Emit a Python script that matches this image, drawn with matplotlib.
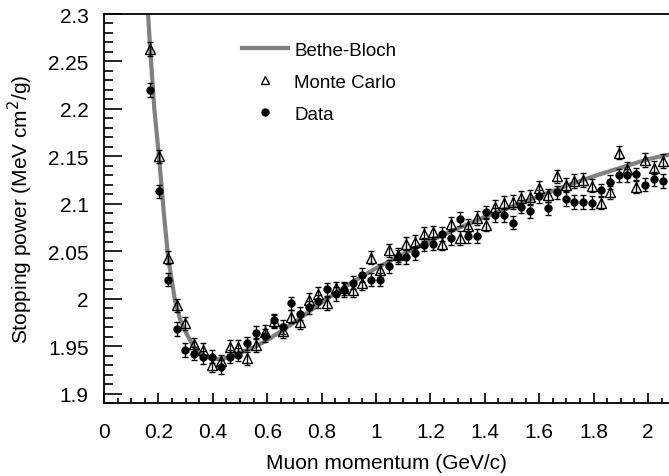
import matplotlib
matplotlib.use('Agg')
import matplotlib.pyplot as plt
from matplotlib import ticker
from matplotlib.lines import Line2D

plt.rcParams['font.family'] = ['Liberation Sans', 'DejaVu Sans']

# momentum bins (GeV/c)
momentum = [0.169, 0.202, 0.234, 0.267, 0.299, 0.332, 0.364, 0.397, 0.429, 0.462,
            0.494, 0.527, 0.559, 0.592, 0.624, 0.657, 0.689, 0.722, 0.754, 0.787,
            0.819, 0.852, 0.884, 0.917, 0.949, 0.982, 1.014, 1.047, 1.079, 1.112,
            1.144, 1.177, 1.209, 1.242, 1.274, 1.307, 1.339, 1.372, 1.404, 1.437,
            1.469, 1.502, 1.534, 1.567, 1.599, 1.632, 1.664, 1.697, 1.729, 1.762,
            1.794, 1.827, 1.859, 1.892, 1.924, 1.957, 1.989, 2.022, 2.054]

data = [2.220, 2.113, 2.020, 1.968, 1.946, 1.942, 1.938, 1.939, 1.928, 1.939,
        1.941, 1.953, 1.964, 1.961, 1.977, 1.970, 1.995, 1.984, 1.991, 1.997,
        2.010, 2.005, 2.009, 2.017, 2.025, 2.020, 2.020, 2.034, 2.044, 2.044,
        2.048, 2.057, 2.058, 2.068, 2.064, 2.084, 2.066, 2.066, 2.091, 2.088,
        2.088, 2.080, 2.097, 2.092, 2.108, 2.095, 2.112, 2.105, 2.102, 2.102,
        2.101, 2.114, 2.123, 2.130, 2.130, 2.131, 2.120, 2.126, 2.124]

montecarlo = [2.263, 2.150, 2.043, 1.993, 1.974, 1.952, 1.946, 1.930, 1.934, 1.949,
              1.949, 1.937, 1.951, 1.965, 1.976, 1.966, 1.981, 1.975, 1.999, 2.005,
              1.995, 2.011, 2.011, 2.009, 2.016, 2.043, 2.030, 2.051, 2.046, 2.058,
              2.060, 2.068, 2.070, 2.058, 2.079, 2.064, 2.077, 2.085, 2.078, 2.097,
              2.101, 2.102, 2.106, 2.107, 2.117, 2.109, 2.129, 2.120, 2.124, 2.125,
              2.119, 2.101, 2.112, 2.154, 2.137, 2.118, 2.146, 2.138, 2.145]

err = 0.007

# Bethe-Bloch curve
bb_p = [0.162, 0.170, 0.185, 0.202, 0.220, 0.236, 0.261, 0.280, 0.298, 0.328,
        0.365, 0.400, 0.440, 0.475, 0.510, 0.560, 0.610, 0.700, 0.800, 0.900,
        1.000, 1.100, 1.200, 1.300, 1.400, 1.500, 1.600, 1.700, 1.800, 1.900,
        2.000, 2.080]
bb_v = [2.300, 2.262, 2.200, 2.150, 2.090, 2.043, 1.998, 1.978, 1.966, 1.950,
        1.940, 1.936, 1.937, 1.940, 1.944, 1.950, 1.958, 1.975, 1.996, 2.015,
        2.032, 2.047, 2.061, 2.074, 2.086, 2.097, 2.108, 2.119, 2.129, 2.138,
        2.147, 2.152]

fig = plt.figure(figsize=(6.69, 4.77), dpi=100)
ax = fig.add_axes([104/669, 1 - 404/477, 1 - 104/669, (404 - 15)/477])

ax.plot(bb_p, bb_v, color='#808080', linewidth=3, zorder=1, solid_capstyle='butt')
ax.errorbar(momentum, montecarlo, yerr=err, fmt='^', ms=7, mfc='none', mec='k', mew=1,
            ecolor='k', elinewidth=1, capsize=2.5, capthick=1, zorder=3)
ax.errorbar(momentum, data, yerr=err, fmt='o', ms=5, color='k',
            ecolor='k', elinewidth=1, capsize=2.5, capthick=1, zorder=2)

ax.set_xlim(0, 2.077)
ax.set_ylim(1.89, 2.3)
ax.xaxis.set_major_locator(ticker.MultipleLocator(0.2))
ax.xaxis.set_minor_locator(ticker.MultipleLocator(0.05))
ax.yaxis.set_major_locator(ticker.FixedLocator([1.9, 1.95, 2.0, 2.05, 2.1, 2.15, 2.2, 2.25, 2.3]))
ax.yaxis.set_minor_locator(ticker.MultipleLocator(0.01))
fmt = ticker.FuncFormatter(lambda v, pos: '%g' % round(v, 3))
ax.xaxis.set_major_formatter(fmt)
ax.yaxis.set_major_formatter(fmt)

ax.tick_params(axis='both', which='both', direction='in', labelsize=15, width=1.2)
ax.tick_params(axis='x', which='major', length=7, pad=14)
ax.tick_params(axis='x', which='minor', length=3.5)
ax.tick_params(axis='y', which='major', length=13, pad=11)
ax.tick_params(axis='y', which='minor', length=6.5)
ax.spines['right'].set_visible(False)
for s in ['left', 'bottom', 'top']:
    ax.spines[s].set_linewidth(1.3)

ax.set_xlabel('Muon momentum (GeV/c)', fontsize=15)
ax.set_ylabel('Stopping power (MeV cm$^2$/g)', fontsize=15)
ax.xaxis.set_label_coords(0.5, -(454 - 404)/389)
ax.yaxis.set_label_coords(-(104 - 35)/565, 0.5)

handles = [Line2D([], [], color='#808080', linewidth=3),
           Line2D([], [], marker='^', ls='none', ms=6, mfc='none', mec='k', mew=1),
           Line2D([], [], marker='o', ls='none', ms=5, color='k')]
ax.legend(handles, ['Bethe-Bloch', 'Monte Carlo', 'Data'], loc='upper left',
          bbox_to_anchor=((234 - 104)/565, 1 - (35 - 15)/389), frameon=False,
          fontsize=13.5, handlelength=2.5, handletextpad=0.3, labelspacing=0.8,
          borderaxespad=0)

fig.savefig('out.png', dpi=100)
